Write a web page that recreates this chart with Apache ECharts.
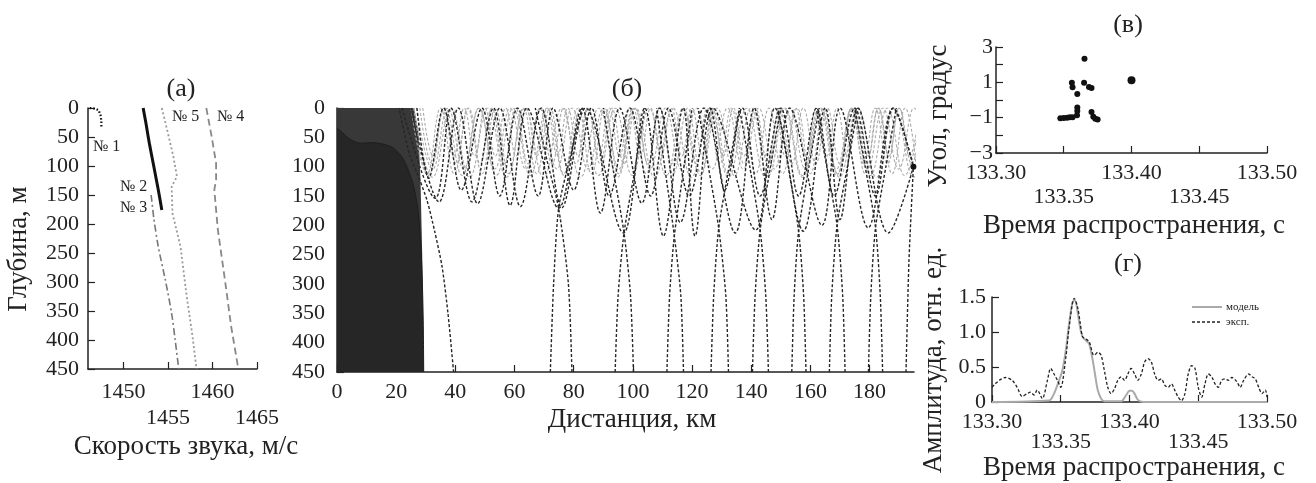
<!DOCTYPE html>
<html>
<head>
<meta charset="utf-8">
<script src="https://cdn.jsdelivr.net/npm/echarts@6/dist/echarts.min.js"></script>
<style>
  html, body { margin: 0; padding: 0; background: #fff; }
  #chart { width: 1316px; height: 483px; }
</style>
</head>
<body>
<div id="chart"></div>
<script>
// ---- (а) sound speed profiles: [speed m/s, depth m]
const speedTicks = [1450, 1455, 1460, 1465]
const prof1 = [[1446.2, 0], [1446.8, 1], [1447.2, 4], [1447.4, 12], [1447.5, 22], [1447.5, 35]]
const prof2 = [[1452.2, 0], [1452.5, 25], [1452.9, 61], [1453.4, 101], [1453.9, 141], [1454.3, 176]]
const prof3 = [[1453.1, 150], [1453.4, 190], [1453.9, 239], [1454.7, 297], [1455.4, 354], [1455.8, 400], [1456.2, 450]]
const prof5 = [[1454.3, 0], [1454.9, 38], [1455.6, 84], [1456.0, 118], [1455.4, 136], [1455.5, 182], [1456.4, 239], [1457.1, 325], [1457.7, 388], [1458.2, 450]]
const prof4 = [[1459.3, 0], [1459.9, 49], [1460.4, 95], [1460.4, 124], [1460.2, 141], [1460.6, 210], [1461.4, 297], [1462.1, 377], [1462.9, 450]]

// ---- (б) ray picture: [distance km, depth m]
const distTicks = [0, 20, 40, 60, 80, 100, 120, 140, 160, 180]
const shadowEdge = [[0, 35], [1, 38], [4, 52], [8, 60], [12, 59], [16, 62], [19, 68], [22, 84], [24, 105], [26, 135], [27.5, 180], [28.5, 250], [29.1, 350], [29.3, 450]]
const hatchEdge = [[0, 0], [26, 0], [27.5, 40], [28.2, 120], [28.8, 250], [29.3, 450]]
// gray ducted rays: turning distances (surface, lower turn, surface, ...) and lower-turn depth
const grayDepths = [112, 104, 95, 115, 82, 118]
const grayTurns1 = [26, 30.5, 35, 39.6, 44.5, 49, 53.5, 58.1, 63, 67.5, 72, 76.6, 81.5, 86, 90.5, 95.1, 100, 104.5, 109, 113.6, 118.5, 123, 127.5, 132.1, 137, 141.5, 146, 150.6, 155.5, 160, 164.5, 169.1, 174, 178.5, 183, 187.6, 192, 196]
const grayTurns2 = [27, 32.3, 37.5, 42.8, 48, 53.3, 58.5, 63.8, 69, 74.3, 79.5, 84.8, 90, 95.3, 100.5, 105.8, 111, 116.3, 121.5, 126.8, 132, 137.3, 142.5, 147.8, 153, 158.3, 163.5, 168.8, 174, 179.3, 184.5, 189.8, 195, 200]
const grayTurns3 = [28, 32.2, 36.1, 40.3, 44.2, 48.4, 52.3, 56.5, 60.4, 64.6, 68.5, 72.7, 76.6, 80.8, 84.7, 88.9, 92.8, 97, 100.9, 105.1, 109, 113.2, 117.1, 121.3, 125.2, 129.4, 133.3, 137.5, 141.4, 145.6, 149.5, 153.7, 157.6, 161.8, 165.7, 169.9, 173.8, 178, 181.9, 186.1, 190, 194.2, 198]
const grayTurns4 = [25, 30.8, 36.5, 42.3, 48, 53.8, 59.5, 65.3, 71, 76.8, 82.5, 88.3, 94, 99.8, 105.5, 111.3, 117, 122.8, 128.5, 134.3, 140, 145.8, 151.5, 157.3, 163, 168.8, 174.5, 180.3, 186, 191.8, 197.5]
const grayTurns5 = [29, 32.5, 36, 39.5, 43, 46.5, 50, 53.5, 57, 60.5, 64, 67.5, 71, 74.5, 78, 81.5, 85, 88.5, 92, 95.5, 99, 102.5, 106, 109.5, 113, 116.5, 120, 123.5, 127, 130.5, 134, 137.5, 141, 144.5, 148, 151.5, 155, 158.5, 162, 165.5, 169, 172.5, 176, 179.5, 183, 186.5, 190, 193.5, 197]
const grayTurns6 = [26, 32.3, 38.5, 44.8, 51, 57.3, 63.5, 69.8, 76, 82.3, 88.5, 94.8, 101, 107.3, 113.5, 119.8, 126, 132.3, 138.5, 144.8, 151, 157.3, 163.5, 169.8, 176, 182.3, 188.5, 194.8, 201]
// black ducted rays
const blackRay1 = [[22, 0], [33.2, 154], [38.5, 0], [45.6, 160], [52.9, 0], [58.5, 166], [64.2, 0], [74.9, 171], [82.8, 0], [89, 179], [95.5, 0], [103, 162], [109, 0], [116, 195], [124, 0], [134.6, 213], [141, 0], [147, 190], [153, 0], [163.9, 200], [170, 0], [179.5, 204], [188, 0], [194.8, 100]]
const blackRay2 = [[25, 0], [34.5, 160], [41, 0], [47.5, 163], [55, 0], [62, 168], [69, 0], [76, 170], [84, 0], [96.8, 213], [104, 0], [110.3, 218], [117, 0], [121, 218], [127, 0], [141.5, 208], [148, 0], [157.6, 210], [165, 0], [170, 190], [176, 0], [186.3, 213], [194.8, 100]]
const blackRay3 = [[27, 0], [31, 120], [36, 0], [42, 140], [49, 0], [55, 150], [61, 0], [68, 150], [73, 0], [80, 140], [86, 0], [92, 150], [99, 0], [106, 150], [112, 0], [119, 150], [126, 0], [131, 140], [137, 0], [143, 150], [150, 0], [156, 150], [162, 0], [168, 150], [175, 0], [182, 150], [188, 0], [194.8, 100]]
// steep rays reaching the bottom of the picture
const steepRays = [
  [[39.4, 450], [37.5, 350], [35.5, 270], [33, 210], [30.4, 157], [27, 110], [24.5, 80], [21, 0]],
  [[72.1, 450], [73.2, 300], [74.9, 171], [78.5, 90], [82.8, 0]],
  [[79.4, 450], [78.2, 300], [74.9, 171], [71, 90], [67, 0]],
  [[94, 450], [95, 320], [97, 213], [100.5, 110], [104, 0]],
  [[100.2, 450], [99.2, 320], [97, 213], [93.5, 110], [90, 0]],
  [[111.5, 450], [112.4, 320], [114, 218], [117, 110], [120, 0]],
  [[117.1, 450], [116.2, 320], [114, 218], [111, 110], [108, 0]],
  [[126.4, 450], [127.3, 320], [129, 205], [132.5, 100], [136, 0]],
  [[132.3, 450], [131.4, 320], [129, 205], [125.5, 100], [122, 0]],
  [[140.4, 450], [141.3, 320], [143, 208], [146.5, 100], [150, 0]],
  [[145.8, 450], [144.9, 320], [143, 208], [139.5, 100], [136, 0]],
  [[153.7, 450], [154.5, 320], [156, 210], [159.5, 100], [163, 0]],
  [[158.5, 450], [157.7, 320], [156, 210], [152.5, 100], [149, 0]],
  [[166.4, 450], [167.2, 320], [169, 200], [172.5, 100], [176, 0]],
  [[171.7, 450], [170.9, 320], [169, 200], [165.5, 100], [162, 0]],
  [[179.6, 450], [180.4, 320], [182, 204], [185.5, 100], [189, 0]],
  [[184.4, 450], [183.6, 320], [182, 204], [178.5, 100], [175, 0]],
  [[192.3, 450], [193.3, 260], [194.8, 100]]
]
const receiver = [[194.8, 100]]

// ---- (в) arrival angles: [time s, angle deg]
const timeTicks = [133.30, 133.35, 133.40, 133.45, 133.50]
const arrivals = [[133.3475, -1.04], [133.3500, -1.02], [133.3525, -1.0], [133.3545, -0.98], [133.3565, -0.97],
  [133.3560, 0.98], [133.3565, 0.72], [133.3600, 0.34], [133.3600, -0.42], [133.3600, -0.62], [133.3598, -0.86],
  [133.3653, 2.34], [133.3650, 0.98], [133.3686, 0.74], [133.3705, 0.68], [133.3705, -0.68], [133.3718, -0.95],
  [133.3733, -1.06], [133.3750, -1.1]]
const arrivalLate = [[133.4000, 1.12]]

// ---- (г) amplitude: [time s, amplitude]
const modelAmp = [[133.30, 0], [133.3415, 0.02], [133.3451, 0.12], [133.3488, 0.31], [133.3512, 0.45], [133.3537, 0.74],
  [133.3561, 1.12], [133.3586, 1.43], [133.3603, 1.45], [133.3622, 1.29], [133.3642, 1.05], [133.3659, 0.93],
  [133.3683, 0.88], [133.3707, 0.83], [133.3732, 0.6], [133.3749, 0.4], [133.3769, 0.17], [133.3793, 0.05],
  [133.3817, 0.01], [133.3939, 0.01], [133.3976, 0.1], [133.4000, 0.16], [133.4017, 0.16], [133.4037, 0.12],
  [133.4061, 0.03], [133.4098, 0], [133.50, 0]]
const expAmp = [[133.3000, 0.21], [133.3024, 0.26], [133.3061, 0.32], [133.3098, 0.35], [133.3146, 0.31], [133.3183, 0.21],
  [133.3220, 0.08], [133.3256, 0.12], [133.3281, 0.14], [133.3305, 0.10], [133.3329, 0.17], [133.3366, 0.05],
  [133.3403, 0.31], [133.3427, 0.48], [133.3451, 0.40], [133.3476, 0.31], [133.3500, 0.21], [133.3537, 0.64],
  [133.3561, 1.07], [133.3598, 1.48], [133.3622, 1.36], [133.3642, 1.12], [133.3659, 0.93], [133.3683, 0.90],
  [133.3707, 0.86], [133.3732, 0.69], [133.3745, 0.67], [133.3769, 0.71], [133.3793, 0.67], [133.3817, 0.45],
  [133.3842, 0.21], [133.3866, 0.12], [133.3891, 0.19], [133.3915, 0.31], [133.3939, 0.36], [133.3964, 0.31],
  [133.3988, 0.40], [133.4012, 0.48], [133.4037, 0.40], [133.4061, 0.31], [133.4086, 0.40], [133.4110, 0.57],
  [133.4135, 0.62], [133.4159, 0.57], [133.4183, 0.40], [133.4208, 0.31], [133.4232, 0.33], [133.4256, 0.24],
  [133.4281, 0.21], [133.4305, 0.26], [133.4329, 0.17], [133.4354, 0.07], [133.4378, 0.02], [133.4403, 0.12],
  [133.4427, 0.40], [133.4452, 0.52], [133.4476, 0.48], [133.4500, 0.21], [133.4525, 0.07], [133.4549, 0.26],
  [133.4573, 0.40], [133.4598, 0.36], [133.4622, 0.26], [133.4646, 0.21], [133.4671, 0.31], [133.4695, 0.33],
  [133.4720, 0.31], [133.4744, 0.35], [133.4781, 0.29], [133.4805, 0.21], [133.4830, 0.31], [133.4867, 0.40],
  [133.4891, 0.36], [133.4915, 0.33], [133.4940, 0.21], [133.4964, 0.12], [133.4988, 0.17], [133.5000, 0.07]]

const FONT = 'Liberation Serif'
const INK = '#222'

function zigzag(turns, depth) {
  return turns.map((k, i) => [k, i % 2 ? depth : 0])
}

// labels on two rows: every second tick goes one line lower
function twoRow(list, digits) {
  return (v) => {
    let i = list.findIndex((t) => Math.abs(t - v) < 1e-6)
    let s = digits ? v.toFixed(digits) : String(v)
    return i % 2 ? '\n' + s : s
  }
}

function xAx(grid, min, max, ticks, margin, lineHeight, formatter) {
  return {
    gridIndex: grid, type: 'value', min: min, max: max,
    axisLine: { onZero: false, lineStyle: { color: INK, width: 1.5 } },
    axisTick: { inside: true, length: 7, customValues: ticks, lineStyle: { color: INK, width: 1.2 } },
    axisLabel: { customValues: ticks, formatter: formatter, color: INK, fontFamily: FONT, fontSize: 22, margin: margin, lineHeight: lineHeight },
    splitLine: { show: false },
  }
}

function yAx(grid, opts) {
  return Object.assign({
    gridIndex: grid, type: 'value',
    axisLine: { show: true, onZero: false, lineStyle: { color: INK, width: 1.5 } },
    axisTick: { show: true, inside: true, length: 7, lineStyle: { color: INK, width: 1.2 } },
    splitLine: { show: false },
  }, opts)
}

function line(xi, data, style, extra) {
  return Object.assign({
    type: 'line', xAxisIndex: xi, yAxisIndex: xi, data: data,
    symbol: 'none', silent: true, animation: false, lineStyle: style,
  }, extra || {})
}

let series = []

// (а)
series.push(line(0, prof1, { color: '#111', width: 2.2, type: [1.5, 2] }))
series.push(line(0, prof2, { color: '#111', width: 3 }, { smooth: 0.3 }))
series.push(line(0, prof3, { color: '#777', width: 1.6, type: [7, 3, 2, 3] }, { smooth: 0.3 }))
series.push(line(0, prof5, { color: '#999', width: 1.8, type: [2, 2.5] }))
series.push(line(0, prof4, { color: '#888', width: 1.8, type: [7, 4] }))

// (б)
series.push(line(1, hatchEdge, { width: 0 }, { areaStyle: { color: '#383838', origin: 'end', opacity: 1 }, z: 1 }))
series.push(line(1, shadowEdge, { color: '#1f1f1f', width: 1 }, { smooth: 0.3, areaStyle: { color: '#262626', origin: 'end', opacity: 1 }, z: 2 }))
;[grayTurns1, grayTurns2, grayTurns3, grayTurns4, grayTurns5, grayTurns6].forEach((t, i) => {
  series.push(line(1, zigzag(t, grayDepths[i]), { color: '#aaaaaa', width: 1.1, type: [3, 2] }, { smooth: 0.45, z: 3 }))
})
;[blackRay1, blackRay2, blackRay3].forEach((r) => {
  series.push(line(1, r, { color: '#262626', width: 1.4, type: [3, 2] }, { smooth: 0.35, z: 4 }))
})
steepRays.forEach((r) => {
  series.push(line(1, r, { color: '#262626', width: 1.4, type: [3, 2] }, { smooth: 0.25, z: 4 }))
})
series.push({ type: 'scatter', xAxisIndex: 1, yAxisIndex: 1, data: receiver, symbolSize: 6, itemStyle: { color: '#111', opacity: 1 }, silent: true, z: 5 })

// (в)
series.push({ type: 'scatter', xAxisIndex: 2, yAxisIndex: 2, data: arrivals, symbolSize: 6, itemStyle: { color: '#111', opacity: 1 }, silent: true })
series.push({ type: 'scatter', xAxisIndex: 2, yAxisIndex: 2, data: arrivalLate, symbolSize: 8, itemStyle: { color: '#111', opacity: 1 }, silent: true })

// (г)
series.push(line(3, modelAmp, { color: '#aaaaaa', width: 2 }, { smooth: 0.3 }))
series.push(line(3, expAmp, { color: '#222', width: 1.3, type: [3, 2] }, { smooth: 0.3 }))

function txt(x, y, s, size, rot, extra) {
  return {
    type: 'text', x: x, y: y, rotation: rot ? Math.PI / 2 : 0, silent: true,
    style: Object.assign({ text: s, fill: INK, font: size + 'px "' + FONT + '"', align: 'center', verticalAlign: 'middle' }, extra || {}),
  }
}

function seg(x1, x2, y, stroke) {
  return { type: 'line', silent: true, shape: { x1: x1, y1: y, x2: x2, y2: y }, style: stroke }
}

let option = {
  backgroundColor: '#fff',
  animation: false,
  textStyle: { fontFamily: FONT },
  grid: [
    { left: 88, top: 108, width: 169, height: 261 },
    { left: 337, top: 108, width: 577, height: 264 },
    { left: 996, top: 47, width: 271, height: 106 },
    { left: 992, top: 297, width: 275, height: 105 },
  ],
  xAxis: [
    xAx(0, 1446, 1465, speedTicks, 10, 26, twoRow(speedTicks, 0)),
    xAx(1, 0, 195, distTicks, 7, 26, (v) => String(v)),
    xAx(2, 133.30, 133.50, timeTicks, 8, 24, twoRow(timeTicks, 2)),
    xAx(3, 133.30, 133.50, timeTicks, 10, 20, twoRow(timeTicks, 2)),
  ],
  yAxis: [
    yAx(0, { inverse: true, min: 0, max: 450, interval: 50, axisLabel: { color: INK, fontFamily: FONT, fontSize: 22, margin: 9 } }),
    yAx(1, { inverse: true, min: 0, max: 450, interval: 50, axisLabel: { color: INK, fontFamily: FONT, fontSize: 22, margin: 12 } }),
    yAx(2, { min: -3, max: 3, interval: 1, axisLabel: { color: INK, fontFamily: FONT, fontSize: 22, margin: 3,
      formatter: (v) => (Math.abs(v) % 2 === 1 ? (v < 0 ? '\u2212' + Math.abs(v) : String(v)) : '') } }),
    yAx(3, { min: 0, max: 1.5, interval: 0.5, axisLabel: { color: INK, fontFamily: FONT, fontSize: 22, margin: 6,
      formatter: (v) => (v === 0 ? '0' : v.toFixed(1)) } }),
  ],
  graphic: [
    txt(181, 89, '(а)', 26),
    txt(627, 89, '(б)', 26),
    txt(1128, 25, '(в)', 26),
    txt(1128, 264, '(г)', 26),
    txt(19, 249, 'Глубина, м', 27, true),
    txt(186, 447, 'Скорость звука, м/с', 27),
    txt(632, 420, 'Дистанция, км', 27),
    txt(939, 116, 'Угол, градус', 27, true),
    txt(1134, 226, 'Время распространения, с', 27),
    txt(934, 360, 'Амплитуда, отн. ед.', 27, true),
    txt(1134, 468, 'Время распространения, с', 27),
    txt(93, 147, '№ 1', 16, false, { align: 'left' }),
    txt(120, 187, '№ 2', 16, false, { align: 'left' }),
    txt(120, 208, '№ 3', 16, false, { align: 'left' }),
    txt(172, 117, '№ 5', 16, false, { align: 'left' }),
    txt(217, 117, '№ 4', 16, false, { align: 'left' }),
    // legend of (г)
    seg(1192, 1222, 307, { stroke: '#aaaaaa', lineWidth: 2 }),
    txt(1226, 307, 'модель', 11, false, { align: 'left' }),
    seg(1192, 1222, 322, { stroke: '#222', lineWidth: 1.3, lineDash: [3, 2] }),
    txt(1226, 322, 'эксп.', 11, false, { align: 'left' }),
  ],
  series: series,
}

let myChart = echarts.init(document.getElementById('chart'))
myChart.setOption(option)
</script>
</body>
</html>
